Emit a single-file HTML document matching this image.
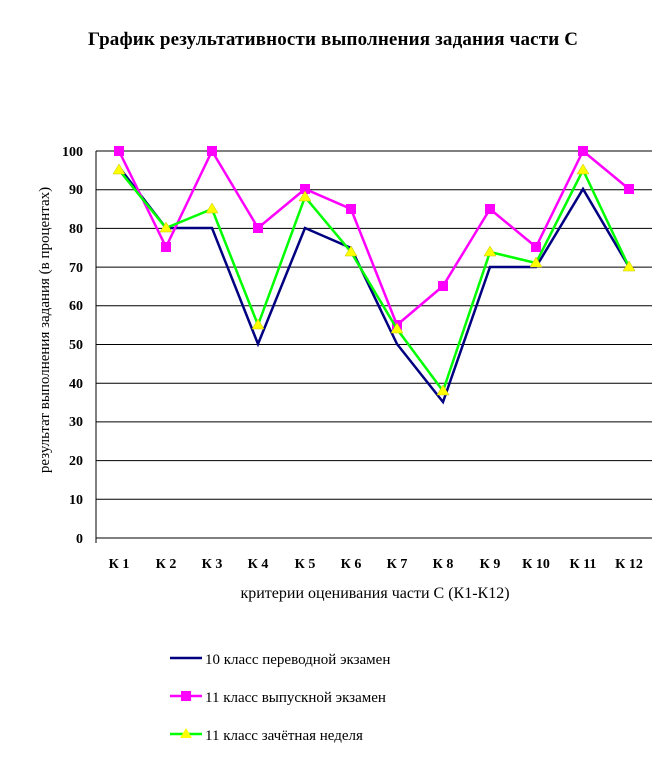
<!DOCTYPE html>
<html><head><meta charset="utf-8"><style>body{margin:0;background:#fff}</style></head><body>
<svg width="668" height="759" xmlns="http://www.w3.org/2000/svg" font-family="Liberation Serif, serif">
<rect width="668" height="759" fill="#fff"/>
<text x="88" y="45" font-size="19" font-weight="bold" textLength="490">График результативности выполнения задания части С</text>
<g stroke="#000" stroke-width="1">
<line x1="96" y1="151" x2="652" y2="151"/><line x1="96" y1="189.7" x2="652" y2="189.7"/>
<line x1="96" y1="228.4" x2="652" y2="228.4"/><line x1="96" y1="267.1" x2="652" y2="267.1"/>
<line x1="96" y1="305.8" x2="652" y2="305.8"/><line x1="96" y1="344.5" x2="652" y2="344.5"/>
<line x1="96" y1="383.2" x2="652" y2="383.2"/><line x1="96" y1="421.9" x2="652" y2="421.9"/>
<line x1="96" y1="460.6" x2="652" y2="460.6"/><line x1="96" y1="499.3" x2="652" y2="499.3"/>
<line x1="96" y1="538" x2="652" y2="538"/><line x1="96" y1="151" x2="96" y2="543"/>
</g>
<g font-size="14" font-weight="bold" text-anchor="end">
<text x="83" y="156">100</text><text x="83" y="194">90</text><text x="83" y="233">80</text><text x="83" y="272">70</text><text x="83" y="310">60</text><text x="83" y="349">50</text><text x="83" y="388">40</text><text x="83" y="426">30</text><text x="83" y="465">20</text><text x="83" y="504">10</text><text x="83" y="543">0</text>
</g>
<g font-size="14" font-weight="bold" text-anchor="middle">
<text x="119" y="568">К 1</text><text x="166" y="568">К 2</text><text x="212" y="568">К 3</text><text x="258" y="568">К 4</text><text x="305" y="568">К 5</text><text x="351" y="568">К 6</text><text x="397" y="568">К 7</text><text x="443" y="568">К 8</text><text x="490" y="568">К 9</text><text x="536" y="568">К 10</text><text x="583" y="568">К 11</text><text x="629" y="568">К 12</text>
</g>
<text x="375" y="598" font-size="16" text-anchor="middle">критерии оценивания части С (К1-К12)</text>
<text transform="translate(49,330) rotate(-90)" font-size="15" text-anchor="middle">результат выполнения задания (в процентах)</text>
<polyline fill="none" stroke="#000080" stroke-width="2.5" points="119,167 166,228 212,228 258,344 305,228 351,248 397,344 443,402 490,267 536,267 583,189 629,267"/>
<polyline fill="none" stroke="#ff00ff" stroke-width="2.5" points="119,151 166,247 212,151 258,228 305,189 351,209 397,325 443,286 490,209 536,247 583,151 629,189"/>
<g fill="#ff00ff"><rect x="114" y="146" width="10" height="10"/><rect x="161" y="242" width="10" height="10"/><rect x="207" y="146" width="10" height="10"/><rect x="253" y="223" width="10" height="10"/><rect x="300" y="184" width="10" height="10"/><rect x="346" y="204" width="10" height="10"/><rect x="392" y="320" width="10" height="10"/><rect x="438" y="281" width="10" height="10"/><rect x="485" y="204" width="10" height="10"/><rect x="531" y="242" width="10" height="10"/><rect x="578" y="146" width="10" height="10"/><rect x="624" y="184" width="10" height="10"/></g>
<polyline fill="none" stroke="#00ff00" stroke-width="2.5" points="119,170 166,228 212,209 258,325 305,197 351,252 397,329 443,391 490,252 536,263 583,170 629,267"/>
<g fill="#ffff00" stroke="#c0c000" stroke-width="0.5">
<path d="M119,164l6,10h-12z"/><path d="M166,222l6,10h-12z"/><path d="M212,203l6,10h-12z"/><path d="M258,319l6,10h-12z"/><path d="M305,191l6,10h-12z"/><path d="M351,246l6,10h-12z"/><path d="M397,323l6,10h-12z"/><path d="M443,385l6,10h-12z"/><path d="M490,246l6,10h-12z"/><path d="M536,257l6,10h-12z"/><path d="M583,164l6,10h-12z"/><path d="M629,261l6,10h-12z"/></g>
<line x1="170" y1="658" x2="202" y2="658" stroke="#000080" stroke-width="2.5"/>
<text x="205" y="664" font-size="15">10 класс переводной экзамен</text>
<line x1="170" y1="696" x2="202" y2="696" stroke="#ff00ff" stroke-width="2.5"/>
<rect x="181" y="691" width="10" height="10" fill="#ff00ff"/>
<text x="205" y="702" font-size="15">11 класс выпускной экзамен</text>
<line x1="170" y1="734" x2="202" y2="734" stroke="#00ff00" stroke-width="2.5"/>
<path d="M186,728l6,10h-12z" fill="#ffff00"/>
<text x="205" y="740" font-size="15">11 класс зачётная неделя</text>
</svg>
</body></html>
